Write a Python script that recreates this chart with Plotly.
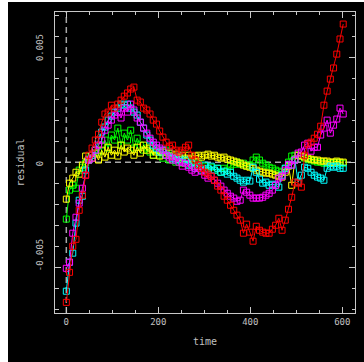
import plotly.graph_objects as go

# sample times shared by all runs
time = [0, 7, 14, 21, 28, 35, 42, 49, 56, 63, 70, 77, 84, 91, 98, 105, 112, 119, 126, 133,
        140, 147, 154, 161, 168, 175, 182, 189, 196, 203, 210, 217, 224, 231, 238, 245, 252,
        259, 266, 273, 280, 287, 294, 301, 308, 315, 322, 329, 336, 343, 350, 357, 364, 371,
        378, 385, 392, 399, 406, 413, 420, 427, 434, 441, 448, 455, 462, 469, 476, 483, 490,
        497, 504, 511, 518, 525, 532, 539, 546, 553, 560, 567, 574, 581, 588, 595, 602]

# residuals, in units of 1e-3
res_red = [-6.67, -5.24, -4.00, -3.67, -2.29, -1.57, -0.62, 0.33, 0.67, 1.05, 1.33, 1.90, 2.29,
           2.38, 2.71, 2.57, 2.76, 2.95, 3.14, 3.29, 3.48, 3.57, 2.95, 2.86, 2.57, 2.48, 2.29,
           2.00, 1.81, 1.48, 1.19, 0.95, 0.76, 0.81, 0.57, 0.48, 0.57, 0.71, 0.81, 0.33, 0.10,
           -0.14, -0.29, -0.48, -0.57, -0.67, -0.86, -1.14, -1.33, -1.62, -1.81, -2.05, -2.29,
           -2.52, -2.76, -3.38, -2.95, -3.33, -3.76, -3.05, -3.24, -3.33, -3.38, -3.38, -3.19,
           -3.00, -2.67, -3.24, -2.76, -2.24, -1.67, -0.95, -1.00, -1.19, 0.33, 0.86, 0.95,
           1.14, 1.33, 1.71, 2.71, 3.38, 3.95, 4.48, 5.14, 5.86, 6.57]

res_magenta = [-5.05, -4.76, -3.38, -2.62, -1.95, -1.24, -0.62, 0.10, 0.19, 0.57, 0.81, 1.05,
               1.52, 1.76, 2.00, 2.24, 2.38, 2.10, 2.57, 2.38, 2.76, 2.48, 2.10, 1.90, 1.62,
               1.38, 1.14, 0.95, 0.81, 0.67, 0.57, 0.33, 0.24, 0.10, 0.19, 0.00, -0.19, -0.05,
               -0.24, -0.38, -0.48, -0.29, -0.43, -0.62, -0.76, -0.67, -0.86, -1.00, -1.14,
               -1.33, -1.48, -1.62, -1.71, -1.86, -1.81, -1.33, -1.43, -1.57, -1.71, -1.71,
               -1.71, -1.67, -1.57, -1.48, -1.33, -1.10, -0.76, -0.67, -0.38, -0.10, -0.14,
               0.10, 0.43, 0.48, 0.81, 0.90, 0.52, 0.71, 0.71, 1.29, 1.62, 2.00, 1.38, 1.76,
               2.05, 2.57, 2.29]

res_cyan = [-6.14, -4.76, -4.33, -2.90, -1.81, -1.62, -0.38, 0.10, 0.33, 0.57, 1.05, 1.43,
            1.67, 2.00, 2.19, 2.38, 2.57, 2.76, 2.71, 2.76, 2.57, 2.38, 2.24, 1.90, 1.62, 1.29,
            1.05, 0.81, 0.67, 0.48, 0.57, 0.33, 0.48, 0.19, 0.10, 0.29, 0.00, 0.10, -0.14,
            -0.05, -0.29, -0.19, -0.38, -0.14, -0.29, -0.19, -0.38, -0.29, -0.48, -0.43,
            -0.57, -0.48, -0.67, -0.76, -0.86, -0.95, -0.86, -0.90, -0.24, -0.48, -0.81,
            -1.00, -0.95, -1.10, -1.05, -1.10, -1.19, -0.62, -0.29, -0.14, -0.14, 0.10, -0.95,
            -0.62, -0.24, -0.29, -0.48, -0.62, -0.71, -0.76, -0.86, -0.29, -0.19, -0.24,
            -0.19, -0.29, -0.29]

res_green = [-2.71, -1.33, -1.10, -1.24, -0.38, -0.24, -0.05, 0.19, 0.33, 0.57, 0.48, 0.81,
             1.05, 0.67, 1.29, 1.05, 1.62, 0.81, 1.38, 1.05, 1.52, 0.67, 1.14, 0.81, 0.57,
             0.67, 0.48, 0.33, 0.57, 0.33, 0.19, 0.57, 0.10, 0.33, 0.00, 0.19, -0.05, 0.10,
             -0.14, 0.00, -0.19, -0.05, -0.29, -0.19, -0.38, -0.24, -0.38, -0.29, -0.48,
             -0.29, -0.38, -0.19, -0.10, 0.00, -0.10, -0.05, -0.19, -0.14, 0.10, 0.24, 0.10,
             -0.05, -0.14, -0.24, -0.29, -0.38, -0.43, -0.48, -0.29, 0.00, 0.29, 0.33, 0.33,
             0.29, 0.19, 0.14, 0.10, 0.05, 0.00, 0.00, -0.05, -0.05, -0.05, -0.05, 0.00,
             -0.05, -0.05]

res_yellow = [-1.76, -1.00, -0.76, -0.48, -0.57, -0.14, 0.29, 0.10, 0.19, 0.43, 0.10, 0.57,
              0.24, 0.71, 0.33, 0.57, 0.29, 0.81, 0.48, 0.67, 0.57, 0.33, 0.71, 0.43, 0.81,
              0.57, 0.67, 0.33, 0.48, 0.29, 0.48, 0.33, 0.43, 0.29, 0.38, 0.24, 0.33, 0.19,
              0.33, 0.19, 0.29, 0.33, 0.24, 0.33, 0.38, 0.29, 0.33, 0.24, 0.19, 0.24, 0.14,
              0.10, 0.05, 0.00, -0.05, -0.14, -0.19, -0.24, -0.29, -0.38, -0.43, -0.48, -0.52,
              -0.52, -0.57, -0.62, -0.67, -0.71, -0.48, -0.19, -1.10, 0.10, 0.33, 0.29, 0.24,
              0.19, 0.14, 0.10, 0.10, 0.05, 0.05, 0.05, 0.00, 0.00, 0.05, 0.00, 0.00]

# drawing order: first listed ends up underneath
series = [
    ("green", res_green, "#00ff00"),
    ("yellow", res_yellow, "#ffff00"),
    ("cyan", res_cyan, "#00ffff"),
    ("magenta", res_magenta, "#ff00ff"),
    ("red", res_red, "#ff0000"),
]

ytick_vals = [0.005, 0.0, -0.005]
ytick_text = ["0.005", "0", "-0.005"]
xtick_vals = [0, 200, 400, 600]

FONT = "DejaVu Sans Mono"
AXIS_GRAY = "#c8c8c8"
TEXT_GRAY = "#c0c0c0"

fig = go.Figure()
for name, vals, color in series:
    fig.add_trace(go.Scatter(
        x=time, y=[v * 1e-3 for v in vals], name=name, mode="lines+markers",
        line=dict(color=color, width=1),
        marker=dict(symbol="square-open", size=6, color=color, line=dict(width=1, color=color)),
    ))

# dashed zero lines
dash_line = dict(color="#a8a8a8", width=1.5, dash="6px,4px")
fig.add_shape(type="line", xref="x", yref="paper", x0=0, x1=0, y0=0, y1=1,
              line=dash_line, layer="below")
fig.add_shape(type="line", xref="paper", yref="y", x0=0, x1=1, y0=0, y1=0,
              line=dash_line, layer="below")

# white strips along the left and top border of the page
fig.add_shape(type="rect", xref="paper", yref="paper", x0=-0.19, x1=(8 - 55) / 300,
              y0=-0.2, y1=1.1, fillcolor="white", line=dict(width=0), layer="above")
fig.add_shape(type="rect", xref="paper", yref="paper", x0=-0.19, x1=1.1,
              y0=(313 - 2) / 301, y1=1.1, fillcolor="white", line=dict(width=0), layer="above")

# rotated y tick labels, starting just below their tick
for v, txt in zip(ytick_vals, ytick_text):
    fig.add_annotation(text=txt, xref="paper", yref="y", x=(39.5 - 55) / 300, y=v,
                       xanchor="center", yanchor="bottom", yshift=-5, textangle=-90,
                       showarrow=False, borderpad=0,
                       font=dict(family=FONT, size=9, color=TEXT_GRAY))

axis_common = dict(
    showline=True, linecolor=AXIS_GRAY, linewidth=1, mirror="allticks",
    ticks="inside", tickcolor=AXIS_GRAY, tickwidth=1, ticklen=6,
    showgrid=False, zeroline=False,
)

fig.update_layout(
    width=364, height=362,
    margin=dict(l=55, r=9, t=12, b=49),
    paper_bgcolor="black", plot_bgcolor="black",
    showlegend=False,
    font=dict(family=FONT, color=TEXT_GRAY),
    xaxis=dict(
        range=[-24.6, 627.6], tickvals=xtick_vals, ticktext=[str(v) for v in xtick_vals],
        tickfont=dict(family=FONT, size=9, color=TEXT_GRAY),
        minor=dict(ticks="inside", ticklen=3, dtick=50, tickcolor=AXIS_GRAY, showgrid=False),
        title=dict(text="time", font=dict(family=FONT, size=10, color=TEXT_GRAY), standoff=12),
        **axis_common,
    ),
    yaxis=dict(
        range=[-0.007176, 0.007143], tickvals=ytick_vals, showticklabels=False,
        minor=dict(ticks="inside", ticklen=3.5, dtick=0.001, tickcolor=AXIS_GRAY, showgrid=False),
        title=dict(text="residual", font=dict(family=FONT, size=10, color=TEXT_GRAY), standoff=27),
        **axis_common,
    ),
)

fig.write_html("out.html")
